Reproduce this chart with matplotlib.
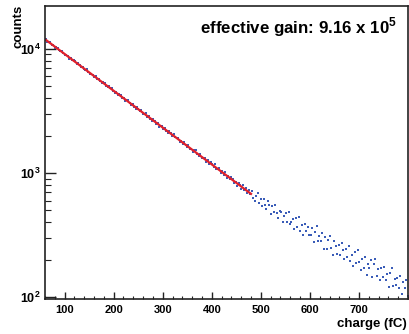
import numpy as np
import matplotlib
matplotlib.use("Agg")
import matplotlib.pyplot as plt
from matplotlib.ticker import FixedLocator, FixedFormatter, MultipleLocator, NullFormatter

plt.rcParams['font.family'] = ['Liberation Sans', 'DejaVu Sans']
plt.rcParams['mathtext.fontset'] = 'custom'
plt.rcParams['mathtext.rm'] = 'Liberation Sans'
plt.rcParams['mathtext.bf'] = 'Liberation Sans:bold'

# ---- data: histogram of charge (3 fC bins, centers 61.5 ... 799.5) ----
bin_start = 61.5
bin_width = 3.0
counts = [
    11880, 11350, 11350, 11290, 10730, 10620, 10200, 10300, 10140, 9740,
    9490, 9580, 9210, 8880, 8930, 8700, 8310, 8440, 8100, 8060,
    7930, 7580, 7650, 7320, 7060, 7130, 6910, 6670, 6800, 6440,
    6240, 6300, 6150, 5930, 5990, 5670, 5690, 5520, 5280, 5380,
    5300, 5040, 4890, 4960, 4790, 4810, 4550, 4430, 4450, 4230,
    4280, 4230, 4000, 3980, 3800, 3880, 3860, 3630, 3520, 3560,
    3420, 3280, 3380, 3280, 3130, 3190, 2990, 2990, 3020, 2840,
    2870, 2730, 2630, 2730, 2620, 2490, 2530, 2360, 2400, 2390,
    2250, 2310, 2180, 2090, 2160, 2090, 1980, 2060, 1930, 1910,
    1920, 1790, 1810, 1700, 1770, 1690, 1620, 1680, 1560, 1570,
    1480, 1520, 1520, 1420, 1360, 1410, 1320, 1330, 1330, 1220,
    1270, 1170, 1230, 1180, 1110, 1170, 1080, 1070, 1090, 1000,
    1040, 972, 1020, 914, 942, 887, 931, 895, 826, 850,
    792, 832, 800, 737, 798, 730, 752, 694, 728, 679,
    720, 634, 590, 655, 686, 575, 612, 542, 613, 550,
    512, 595, 552, 468, 547, 487, 557, 478, 431, 495,
    490, 405, 452, 480, 407, 487, 386, 405, 423, 352,
    437, 369, 439, 343, 382, 318, 389, 344, 370, 316,
    319, 363, 281, 335, 373, 283, 314, 285, 327, 247,
    308, 246, 287, 310, 251, 221, 282, 258, 223, 262,
    221, 275, 242, 202, 246, 213, 261, 195, 218, 179,
    232, 190, 239, 192, 166, 204, 172, 212, 152, 187,
    171, 198, 145, 185, 202, 149, 168, 139, 171, 146,
    176, 137, 155, 121, 158, 172, 123, 141, 126, 142,
    119, 148, 106, 134, 119, 137, 103,
]
charge = bin_start + bin_width * np.arange(len(counts))

# ---- exponential fit ----
gain = 9.16e5
e_charge_fC = 1.602e-4
fit_amplitude = 17890.0
fit_range = (60.0, 480.0)
mean_q = gain * e_charge_fC

x_ticks = [100, 200, 300, 400, 500, 600, 700]
y_ticks = [100, 1000, 10000]
y_tick_labels = [r'$\mathbf{10^{2}}$', r'$\mathbf{10^{3}}$', r'$\mathbf{10^{4}}$']

fig = plt.figure(figsize=(4.10, 3.34), dpi=100)
ax = fig.add_axes([45/410, 1-299/334, 363/410, 293/334])

ax.plot(charge, counts, linestyle='none', marker='s', markersize=1.7,
        markeredgewidth=0, color='#3a5cb8')
qf = np.linspace(fit_range[0], fit_range[1], 200)
ax.plot(qf, fit_amplitude * np.exp(-qf / mean_q), color='#e0202a', lw=1.6)

ax.set_yscale('log')
ax.set_xlim(60, 800)
ax.set_ylim(97, 22000)

ax.xaxis.set_major_locator(FixedLocator(x_ticks))
ax.xaxis.set_minor_locator(MultipleLocator(20))
ax.yaxis.set_major_locator(FixedLocator(y_ticks))
ax.yaxis.set_major_formatter(FixedFormatter(y_tick_labels))
ax.yaxis.set_minor_locator(FixedLocator([m * 10**d for d in (2, 3) for m in range(2, 10)]))
ax.yaxis.set_minor_formatter(NullFormatter())

ax.tick_params(axis='x', which='major', direction='in', length=5, width=1.0,
               labelsize=8, pad=4, colors='#222222')
ax.tick_params(axis='x', which='minor', direction='in', length=2.5, width=0.8, colors='#222222')
ax.tick_params(axis='y', which='major', direction='in', length=8, width=1.0,
               labelsize=9, pad=3, colors='#222222')
ax.tick_params(axis='y', which='minor', direction='in', length=4.5, width=0.8, colors='#222222')
for lab in ax.get_xticklabels():
    lab.set_fontweight('bold')
    lab.set_color('black')
for lab in ax.get_yticklabels():
    lab.set_color('black')

for s in ax.spines.values():
    s.set_linewidth(1.2)
    s.set_color('#222222')

fig.text(407/410, 1-324/334, 'charge (fC)', ha='right', va='center',
         fontsize=9.5, fontweight='bold')
fig.text(19/410, 1-5/334, 'counts', ha='center', va='top', rotation=90,
         fontsize=9.5, fontweight='bold')
fig.text(397/410, 1-33/334, r'effective gain: 9.16 x 10$^{\mathbf{5}}$', ha='right',
         va='baseline', fontsize=12.2, fontweight='bold')

fig.savefig('out.png', dpi=100)
